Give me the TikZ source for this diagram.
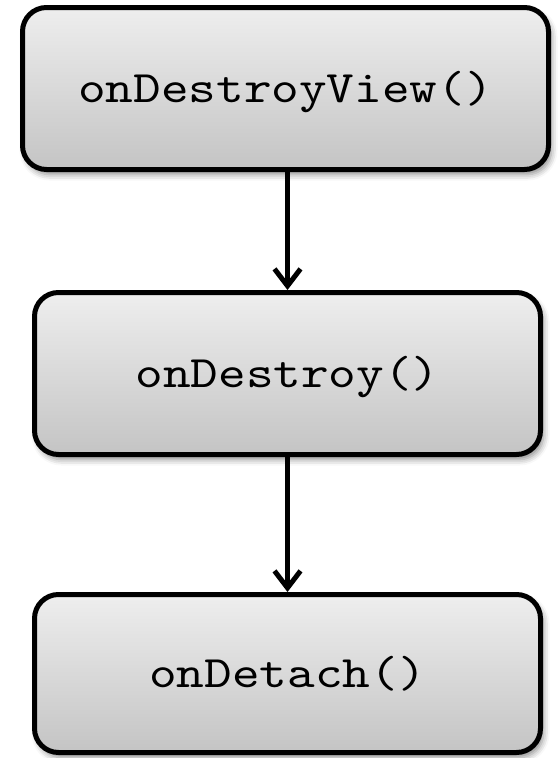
\documentclass[tikz,border=0pt]{standalone}
\usepackage{fontspec}
\newfontfamily\twfont[FakeStretch=1.17]{lmmono10-regular.otf}
\usetikzlibrary{arrows.meta,shadows.blur}
\definecolor{boxtop}{RGB}{238,238,238}
\definecolor{boxbot}{RGB}{196,196,196}
\tikzset{
  stagebox/.style={draw=black, line width=5pt, rounded corners=24pt,
    top color=boxtop, bottom color=boxbot,
    blur shadow={shadow xshift=3pt, shadow yshift=-5pt, shadow blur radius=6pt, shadow opacity=45},
    font=\twfont\fontsize{45pt}{49pt}\selectfont,
    text height=27.5pt, text depth=0pt, inner sep=0pt},
  flow/.style={line width=5pt, -{Straight Barb[length=17pt,width=26pt,line width=5pt]}}
}
\begin{document}
\begin{tikzpicture}[x=1pt,y=1pt]
\useasboundingbox (0,0) rectangle (558,-758);
\node[stagebox, minimum width=526pt, minimum height=162pt] (v) at (285.5,-88.5) {onDestroyView()};
\node[stagebox, minimum width=506pt, minimum height=162pt] (d) at (287.5,-373.5) {onDestroy()};
\node[stagebox, minimum width=506pt, minimum height=158pt] (a) at (287.5,-673.5) {onDetach()};
\draw[flow] (v.south -| d.north) -- (d.north);
\draw[flow] (d.south) -- (a.north);
\end{tikzpicture}
\end{document}
